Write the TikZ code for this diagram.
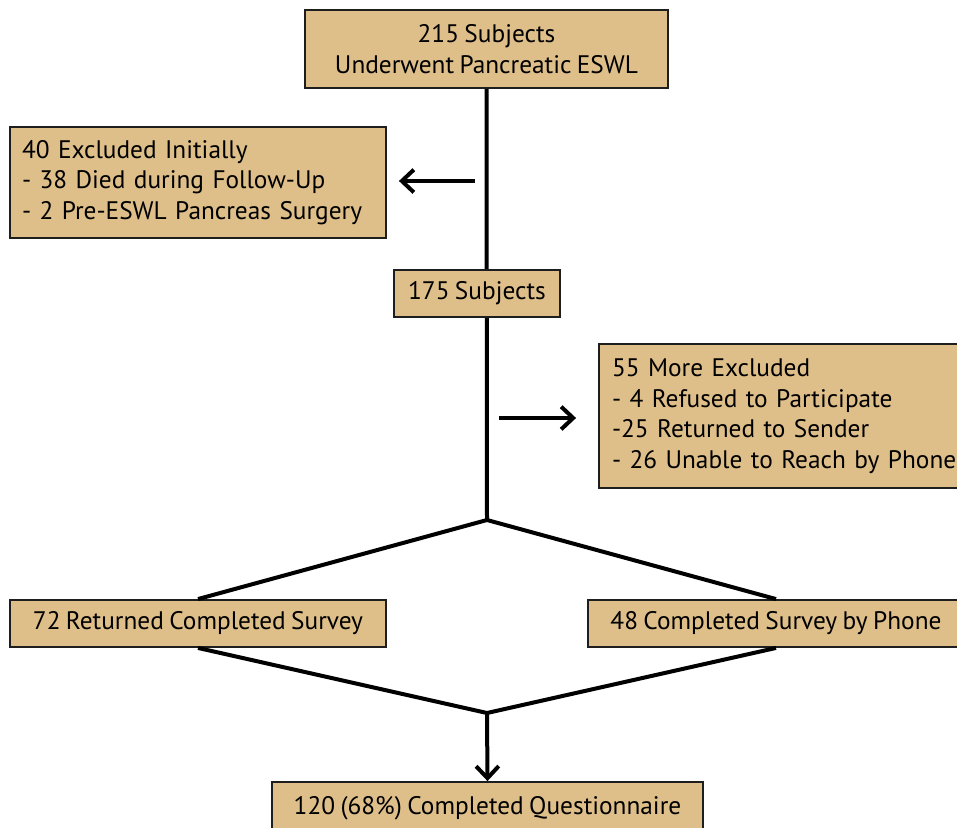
\documentclass[tikz,border=0pt]{standalone}
\usepackage{fontspec}
\setmainfont[WordSpace=0.8]{PT Sans}
\usetikzlibrary{arrows.meta}

\definecolor{boxtan}{RGB}{222,190,137}
\tikzset{every picture/.style={line width=0.75pt}}
\tikzset{
  flowbox/.style={draw={rgb, 255:red, 30; green, 30; blue, 30}, line width=1.4pt, fill=boxtan, inner sep=0pt,
    font=\fontsize{19}{22.9}\selectfont},
  flowline/.style={line width=3pt, line join=miter},
  flowarrow/.style={line width=3pt, -{Straight Barb[length=9pt,width=17pt,line width=3pt]}}
}

\begin{document}
\begin{tikzpicture}[x=0.75pt,y=0.75pt,yscale=-1,xscale=1]
	\useasboundingbox (0,0) rectangle (957,828);

	% Text Node
	\node [flowbox, minimum width=363*0.75pt, minimum height=78*0.75pt, align=center] (subj215) at (486.5,49) {215 Subjects\\Underwent Pancreatic ESWL};
	%Coordinates [split / join]
	\coordinate (split) at (487,520);
	\coordinate (join) at (487,713);
	%Straight Lines [main trunk]
	\draw [flowline] (subj215.south) -- (split);

	% Text Node
	\node [flowbox, minimum width=376*0.75pt, minimum height=111*0.75pt, text width=352*0.75pt, align=left] (excl40) at (198,182.5) {40 Excluded Initially\\- 38 Died during Follow-Up\\- 2 Pre-ESWL Pancreas Surgery};
	% Text Node
	\node [flowbox, minimum width=166*0.75pt, minimum height=47*0.75pt] (subj175) at (477,293.5) {175 Subjects};
	% Text Node
	\node [flowbox, minimum width=386*0.75pt, minimum height=144*0.75pt, text width=360*0.75pt, align=left] (excl55) at (792,416) {55 More Excluded\\- 4 Refused to Participate\\-25 Returned to Sender\\- 26 Unable to Reach by Phone};

	%Arrows [exclusions]
	\coordinate (left arrow start) at (475,181);
	\coordinate (right arrow start) at (499,418);
	\draw [flowarrow, shorten >=9pt] (left arrow start) -- (left arrow start -| excl40.east);
	\draw [flowarrow, shorten >=16.5pt] (right arrow start) -- (right arrow start -| excl55.west);

	% Text Node
	\node [flowbox, minimum width=376*0.75pt, minimum height=47*0.75pt] (mailed) at (198,623.5) {72 Returned Completed Survey};
	% Text Node
	\node [flowbox, minimum width=376*0.75pt, minimum height=47*0.75pt] (phone) at (776,623.5) {48 Completed Survey by Phone};
	% Text Node
	\node [flowbox, minimum width=431*0.75pt, minimum height=52*0.75pt] (total) at (487.5,808) {120 (68\%) Completed Questionnaire};

	%Straight Lines [split and join]
	\draw [flowline] (mailed.north) -- (split) -- (phone.north);
	\draw [flowline] (mailed.south) -- (join) -- (phone.south);
	\draw [flowarrow] (join) -- (total.north);

\end{tikzpicture}
\end{document}
